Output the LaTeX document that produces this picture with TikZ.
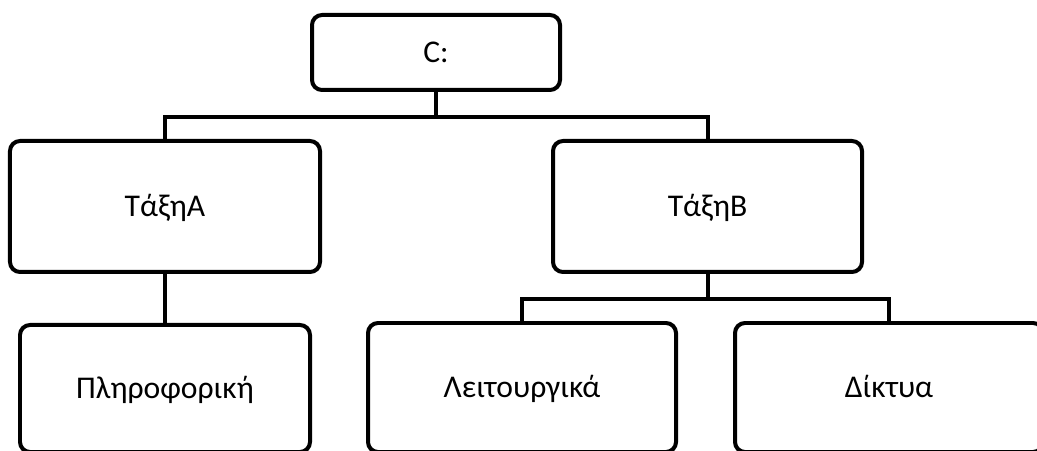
\documentclass[tikz,border=0pt]{standalone}
\usepackage{fontspec}
\setmainfont{Carlito}
\usetikzlibrary{positioning}
\tikzset{
  box/.style ={draw, rounded corners=0.1cm, line width=0.04cm, align=center,
               text height=1.6ex, text depth=0.4ex,
               font=\fontsize{9pt}{10pt}\selectfont},
  bus/.style ={line width=0.04cm},
}

\begin{document}
\begin{tikzpicture}
  \useasboundingbox (0,0) rectangle (10.37,-4.51);
  % root folder
  \node[box, minimum width=2.48cm, minimum height=0.75cm] (root) at (4.36,-0.525) {C:};

  % class folders
  \node[box, minimum width=3.10cm, minimum height=1.31cm] (taxA) at (1.65,-2.065) {ΤάξηΑ};
  \node[box, minimum width=3.09cm, minimum height=1.31cm] (taxB) at (7.075,-2.065) {ΤάξηΒ};

  % lesson folders (cut by the page edge)
  \node[box, minimum width=2.90cm, minimum height=1.27cm] (plir) at (1.65,-3.885)  {Πληροφορική};
  \node[box, minimum width=3.08cm, minimum height=1.29cm] (leit) at (5.22,-3.875)  {Λειτουργικά};
  \node[box, minimum width=3.08cm, minimum height=1.29cm] (dikt) at (8.89,-3.875)  {Δίκτυα};

  \draw[bus] (root.south) -- ++(0,-0.25) -| (taxA.north);
  \draw[bus] (root.south) -- ++(0,-0.25) -| (taxB.north);
  \draw[bus] (taxA.south) -- (plir.north);
  \draw[bus] (taxB.south) -- ++(0,-0.25) -| (leit.north);
  \draw[bus] (taxB.south) -- ++(0,-0.25) -| (dikt.north);
\end{tikzpicture}
\end{document}
